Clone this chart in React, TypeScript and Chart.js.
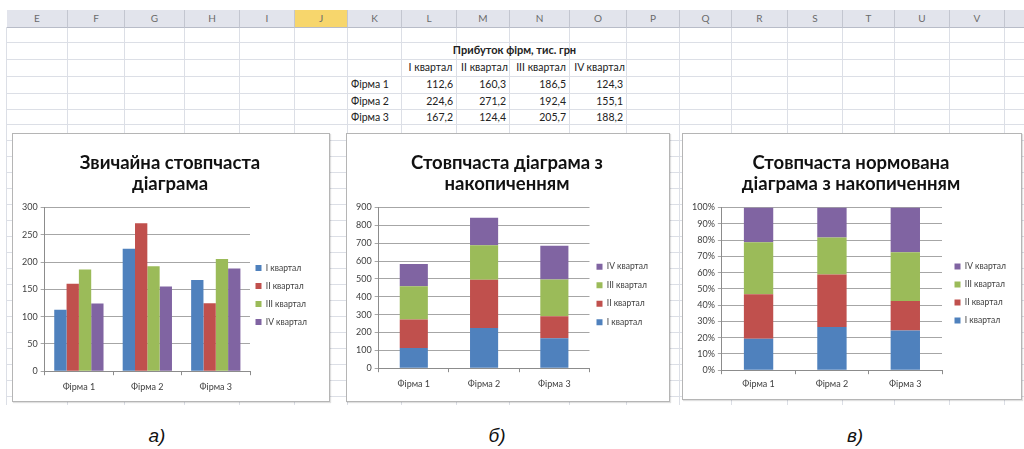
import React, { useEffect, useRef } from "react";
import { Chart, registerables } from "chart.js";

Chart.register(...registerables);

// ---------- data ----------
const firms = ["Фірма 1", "Фірма 2", "Фірма 3"];
const quarters = ["I квартал", "II квартал", "III квартал", "IV квартал"];
const q1 = [112.6, 224.6, 167.2];
const q2 = [160.3, 271.2, 124.4];
const q3 = [186.5, 192.4, 205.7];
const q4 = [124.3, 155.1, 188.2];
const tableTitle = "Прибуток фірм, тис. грн";
const colLetters = ["E", "F", "G", "H", "I", "J", "K", "L", "M", "N", "O", "P", "Q", "R", "S", "T", "U", "V", "W"];
const titleA = ["Звичайна стовпчаста", "діаграма"];
const titleB = ["Стовпчаста діаграма з", "накопиченням"];
const titleC = ["Стовпчаста нормована", "діаграма з накопиченням"];
const captions = ["а)", "б)", "в)"];

// ---------- layout / style ----------
const colEdges = [7, 68, 125, 185, 240, 295, 348, 402, 457, 510, 570, 627, 680, 732, 788, 843, 895, 950, 1005, 1060];
const rowEdges = [27, 42, 59, 76, 93, 109, 124, 140, 156, 172, 188, 204, 220, 236, 252, 268, 284, 300, 316, 332, 348, 364, 380, 396];
const gridBottom = 405;
const FONT = "Lato, 'Liberation Sans', sans-serif";
const colors = ["#4f81bd", "#c0504d", "#9bbb59", "#8064a2"];
const series = [q1, q2, q3, q4];

const fmt = (v: number) => v.toFixed(1).replace(".", ",");

type Kind = "grouped" | "stacked" | "percent";

function buildConfig(kind: Kind, title: string[], pad: any, legendPad: number, xPad: number, legendShift: [number, number]): any {
  const totals = firms.map((_, i) => series.reduce((s, arr) => s + arr[i], 0));
  const datasets = quarters.map((q, k) => ({
    label: q,
    data: kind === "percent" ? series[k].map((v, i) => (v / totals[i]) * 100) : series[k],
    backgroundColor: colors[k],
    borderWidth: 0,
    categoryPercentage: kind === "grouped" ? 0.72 : 0.4,
    barPercentage: 1,
  }));
  const tickFont = { family: FONT, size: 9 };
  const yCfg: any =
    kind === "grouped"
      ? { min: 0, max: 300, ticks: { stepSize: 50 } }
      : kind === "stacked"
      ? { min: 0, max: 900, ticks: { stepSize: 100 } }
      : { min: 0, max: 100, ticks: { stepSize: 10, callback: (v: any) => v + "%" } };
  const shiftPlugin = {
    id: "legendShift",
    afterLayout(chart: any) {
      const lg = chart.legend;
      if (!lg) return;
      lg.left += legendShift[0];
      lg.right += legendShift[0];
      lg.top += legendShift[1];
      lg.bottom += legendShift[1];
    },
  };
  return {
    type: "bar",
    data: { labels: firms, datasets },
    plugins: [shiftPlugin],
    options: {
      animation: false,
      responsive: false,
      maintainAspectRatio: false,
      layout: { padding: pad },
      plugins: {
        tooltip: { enabled: false },
        title: {
          display: true,
          text: title,
          color: "#111",
          font: { family: FONT, size: 18.5, weight: "bold", lineHeight: 1.15 },
          padding: { top: 18, bottom: 13 },
        },
        legend: {
          position: "right",
          reverse: kind !== "grouped",
          labels: {
            boxWidth: 6,
            boxHeight: 6,
            padding: legendPad,
            color: "#404040",
            font: { family: FONT, size: 8.5 },
          },
        },
      },
      scales: {
        x: {
          stacked: kind !== "grouped",
          grid: { display: true, drawOnChartArea: false, tickLength: 4, color: "#8c8c8c", offset: true },
          border: { color: "#8c8c8c" },
          ticks: { padding: xPad, color: "#404040", font: tickFont },
        },
        y: {
          stacked: kind !== "grouped",
          min: yCfg.min,
          max: yCfg.max,
          ticks: { ...yCfg.ticks, padding: 3, color: "#404040", font: tickFont },
          grid: { color: "#a6a6a6", tickLength: 4 },
          border: { color: "#8c8c8c" },
        },
      },
    },
  };
}

function ChartBox(props: {
  left: number;
  top: number;
  width: number;
  height: number;
  kind: Kind;
  title: string[];
  pad: any;
  legendPad: number;
  xPad: number;
  legendShift: [number, number];
}) {
  const ref = useRef<HTMLCanvasElement>(null);
  useEffect(() => {
    if (!ref.current) return;
    const chart = new Chart(
      ref.current,
      buildConfig(props.kind, props.title, props.pad, props.legendPad, props.xPad, props.legendShift)
    );
    return () => chart.destroy();
  }, []);
  return (
    <div
      style={{
        position: "absolute",
        left: props.left,
        top: props.top,
        width: props.width,
        height: props.height,
        background: "#fff",
        border: "1px solid #b5b5b5",
        boxShadow: "1px 1px 1px rgba(0,0,0,0.12)",
      }}
    >
      <canvas ref={ref} width={props.width} height={props.height} style={{ display: "block" }} />
    </div>
  );
}

const cellText = (left: number, top: number, width: number, text: string, align: "left" | "right" | "center", bold = false) => (
  <div
    key={text + left + top}
    style={{
      position: "absolute",
      left,
      top,
      width,
      height: 16,
      lineHeight: "16px",
      fontFamily: FONT,
      fontSize: bold ? 11 : 10.5,
      fontWeight: bold ? "bold" : "normal",
      color: "#222",
      textAlign: align,
      whiteSpace: "nowrap",
    }}
  >
    {text}
  </div>
);

export default function App() {
  const headerCells = colLetters.map((c, i) => {
    const l = colEdges[i];
    const w = colEdges[i + 1] - l;
    return (
      <div
        key={c}
        style={{
          position: "absolute",
          left: l,
          top: 10,
          width: w - 1,
          height: 17,
          lineHeight: "17px",
          background: c === "J" ? "#f7d66c" : "#e2e4ec",
          borderRight: "1px solid #c3c6d0",
          borderBottom: "1px solid #b8bcc8",
          textAlign: "center",
          fontFamily: FONT,
          fontSize: 10,
          color: "#6a6a6a",
        }}
      >
        {c}
      </div>
    );
  });
  const vLines = colEdges.map((x, i) => (
    <div key={"v" + i} style={{ position: "absolute", left: x - 1, top: 27, width: 1, height: gridBottom - 27, background: "#dcdfe6" }} />
  ));
  const hLines = rowEdges.map((y, i) => (
    <div key={"h" + i} style={{ position: "absolute", left: 7, top: y, width: 1024, height: 1, background: "#dcdfe6" }} />
  ));

  const rowsY = [76, 93, 109];
  const tableCells: any[] = [];
  tableCells.push(cellText(402, 42, 225, tableTitle, "center", true));
  quarters.forEach((q, k) => {
    tableCells.push(cellText(colEdges[7 + k] + 1, 59, colEdges[8 + k] - colEdges[7 + k], q, "center"));
  });
  firms.forEach((f, i) => {
    tableCells.push(cellText(colEdges[6] + 3, rowsY[i], 54, f, "left"));
    series.forEach((arr, k) => {
      tableCells.push(cellText(colEdges[7 + k], rowsY[i], colEdges[8 + k] - colEdges[7 + k] - 4, fmt(arr[i]), "right"));
    });
  });

  const capX = [157, 497, 855];

  return (
    <div style={{ position: "fixed", left: 0, top: 0, width: 1024, height: 449, background: "#fff", overflow: "hidden" }}>
      {vLines}
      {hLines}
      {headerCells}
      {tableCells}
      <ChartBox left={12} top={133} width={316} height={267} kind="grouped" title={titleA} pad={{ left: 6, right: 8, top: 0, bottom: 3 }} legendPad={9.5} xPad={6} legendShift={[-4, 29]} />
      <ChartBox left={346} top={133} width={322} height={267} kind="stacked" title={titleB} pad={{ left: 6, right: 8, top: 0, bottom: 6 }} legendPad={10} xPad={6} legendShift={[-3, 30]} />
      <ChartBox left={682} top={133} width={338} height={265} kind="percent" title={titleC} pad={{ left: 6, right: 8, top: 0, bottom: 6 }} legendPad={9.5} xPad={4} legendShift={[3, 30]} />
      {captions.map((c, i) => (
        <div
          key={c}
          style={{
            position: "absolute",
            left: capX[i] - 30,
            top: 425,
            width: 60,
            textAlign: "center",
            fontFamily: "'Liberation Sans', Arial, sans-serif",
            fontStyle: "italic",
            fontSize: 19,
            color: "#111",
          }}
        >
          {c}
        </div>
      ))}
    </div>
  );
}
